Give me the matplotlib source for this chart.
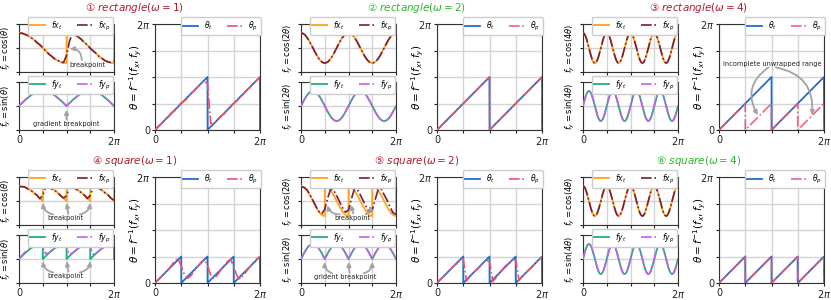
import numpy as np
import matplotlib.pyplot as plt

PI = np.pi
W, H = 831, 300

# ---- panel settings: rect w=1, rect w=2, rect w=4, square w=1, square w=2, square w=4
shapes = ["rectangle", "rectangle", "rectangle", "square", "square", "square"]
omegas = [1, 2, 4, 1, 2, 4]
marks = ["①", "②", "③", "④", "⑤", "⑥"]
title_colors = ["#b01c2e", "#2db52d", "#b01c2e", "#b01c2e", "#b01c2e", "#2db52d"]
# angle wrap period of truth / prediction (in units of pi)
true_wrap = [1, 1, 1, 0.5, 0.5, 0.5]
pred_wrap = [1, 1, 0.5, 0.5, 0.5, 0.5]

k_pred = list(range(33))
fx_pred = {
    0: [0.97, 0.99, 0.90, 0.84, 0.68, 0.58, 0.36, 0.22, 0.02, -0.18, -0.40, -0.55, -0.73, -0.82, -0.95, -0.97,
        -0.50, 0.45, 0.95, 0.88, 0.74, 0.58, 0.36, 0.22, -0.03, -0.20, -0.36, -0.58, -0.70, -0.85, -0.93, -0.97, -0.88],
    3: [0.97, 0.95, 0.93, 0.80, 0.72, 0.52, 0.40, 0.15, 0.40, 0.90, 0.95, 0.80, 0.72, 0.55, 0.35, 0.20,
        0.35, 0.88, 0.93, 0.82, 0.68, 0.56, 0.40, 0.16, 0.38, 0.90, 0.92, 0.85, 0.70, 0.54, 0.40, 0.18, 0.05],
    4: [0.95, 0.90, 0.75, 0.42, 0.05, -0.35, -0.70, -0.85, -0.55, 0.20, 0.80, 0.72, 0.35, -0.05, -0.45, -0.75,
        -0.60, 0.15, 0.82, 0.75, 0.40, 0.00, -0.40, -0.75, -0.62, 0.10, 0.78, 0.78, 0.42, 0.05, -0.40, -0.78, -0.90],
}
fy_pred = {
    3: [0.00, 0.25, 0.45, 0.60, 0.76, 0.88, 0.95, 0.97, 0.80, 0.35, 0.40, 0.58, 0.72, 0.86, 0.95, 0.98,
        0.78, 0.30, 0.40, 0.55, 0.74, 0.85, 0.93, 0.97, 0.80, 0.32, 0.37, 0.57, 0.72, 0.84, 0.92, 0.98, 1.00],
}
theta_pred = {  # in units of pi
    0: [0.00, 0.07, 0.12, 0.19, 0.24, 0.33, 0.36, 0.45, 0.51, 0.55, 0.61, 0.70, 0.74, 0.81, 0.88, 0.91,
        0.88, 0.12, 0.11, 0.20, 0.26, 0.30, 0.37, 0.45, 0.50, 0.55, 0.63, 0.68, 0.76, 0.80, 0.88, 0.94, 1.00],
    3: [0.00, 0.06, 0.12, 0.18, 0.25, 0.33, 0.42, 0.46, 0.32, 0.15, 0.09, 0.14, 0.23, 0.31, 0.39, 0.45,
        0.33, 0.14, 0.08, 0.15, 0.24, 0.32, 0.40, 0.45, 0.31, 0.13, 0.07, 0.15, 0.23, 0.31, 0.39, 0.45, 0.50],
    4: [0.00, 0.07, 0.12, 0.18, 0.25, 0.32, 0.36, 0.44, 0.46, 0.04, 0.12, 0.20, 0.24, 0.30, 0.38, 0.43,
        0.40, 0.03, 0.10, 0.18, 0.26, 0.33, 0.37, 0.45, 0.43, 0.05, 0.12, 0.19, 0.25, 0.30, 0.38, 0.44, 0.49],
}

# annotations: text, text pos (axes frac), arrows [(head x in pi, head y, tail frac, rad)]
notes = {
    (0, "fx"): ("breakpoint", (0.72, 0.15), [(1.07, -0.06, (0.66, 0.25), 0.5)]),
    (0, "fy"): ("gradient breakpoint", (0.5, 0.12), [(1.0, -0.25, (0.5, 0.22), 0.0)]),
    (2, "th"): ("incomplete unwrapped range", (0.51, 0.62),
                [(0.74, 0.28, (0.47, 0.59), 0.45), (1.77, 0.28, (0.54, 0.59), -0.45)]),
    (3, "fx"): ("breakpoint", (0.49, 0.15),
                [(0.5, -0.13, (0.36, 0.22), -0.35), (1.0, -0.13, (0.52, 0.24), 0.0), (1.5, -0.13, (0.64, 0.22), 0.35)]),
    (3, "fy"): ("breakpoint", (0.49, 0.15),
                [(0.5, -0.15, (0.36, 0.22), -0.35), (1.0, -0.15, (0.52, 0.24), 0.0), (1.5, -0.15, (0.64, 0.22), 0.35)]),
    (4, "fx"): ("breakpoint", (0.54, 0.15),
                [(0.55, -0.3, (0.41, 0.22), -0.35), (1.05, -0.25, (0.55, 0.24), 0.0), (1.45, -0.3, (0.68, 0.22), 0.35)]),
    (4, "fy"): ("grident breakpoint", (0.47, 0.12),
                [(0.5, -0.2, (0.33, 0.2), -0.35), (1.0, -0.2, (0.51, 0.22), 0.0), (1.5, -0.2, (0.66, 0.2), 0.35)]),
}

c_fx_t, c_fx_p = "#ffa31a", "#7a1c3c"
c_fy_t, c_fy_p = "#20b07a", "#c75cf2"
c_th_t, c_th_p = "#1f6fd1", "#f2506e"
GRID = "#d4d4d4"
YL = 1.6

left_x = [19, 301, 583]
right_x = [155, 437, 719]
row_top = [24, 177]

plt.rcParams["mathtext.fontset"] = "dejavusans"
fig = plt.figure(figsize=(W / 100, H / 100), dpi=100)


def px_axes(x0, y0, x1, y1):
    return fig.add_axes([x0 / W, 1 - y1 / H, (x1 - x0) / W, (y1 - y0) / H])


def style(ax, ylim, yticks, show_x):
    ax.set_xlim(0, 2 * PI)
    ax.set_ylim(*ylim)
    ax.set_xticks([0, PI / 2, PI, 3 * PI / 2, 2 * PI])
    ax.set_yticks(yticks)
    ax.grid(True, color=GRID, lw=1.0)
    ax.set_axisbelow(True)
    ax.tick_params(length=2.5, width=0.8, labelsize=7.0, pad=1.0, colors="#222222")
    for s in ax.spines.values():
        s.set_color("#333333")
        s.set_linewidth(0.8)
    if show_x:
        ax.set_xticklabels(["0", "", "", "", r"$2\pi$"])
    else:
        ax.set_xticklabels([])


def legend(ax, labels, anchor):
    ax.legend(labels, loc="upper right", bbox_to_anchor=anchor, ncol=2, fontsize=5.5,
              handlelength=2.0, columnspacing=1.8, handletextpad=0.8, borderpad=0.3,
              borderaxespad=0.0, framealpha=1.0, edgecolor="#cccccc", fancybox=True)


def add_note(ax, key, yscale):
    if key not in notes:
        return
    txt, tpos, arrows = notes[key]
    ax.text(tpos[0], tpos[1], txt, transform=ax.transAxes, ha="center", va="center",
            fontsize=4.8, color="#222222", zorder=6)
    for hx, hy, tail, rad in arrows:
        ax.annotate("", xy=(hx * PI, hy * yscale), xycoords="data",
                    xytext=tail, textcoords="axes fraction",
                    arrowprops=dict(arrowstyle="-|>", color="#a3a3a3", lw=1.3, mutation_scale=6,
                                    shrinkA=0, shrinkB=0, connectionstyle=f"arc3,rad={rad}"),
                    zorder=6)


theta = np.linspace(0, 2 * PI, 1201)
theta_k = np.array(k_pred) * PI / 16

for i in range(6):
    r, c = divmod(i, 3)
    top, lx, rx = row_top[r], left_x[c], right_x[c]
    w = omegas[i]
    th_t = np.mod(theta, true_wrap[i] * PI)
    th_p = np.mod(theta, pred_wrap[i] * PI)
    wlab = r"\theta" if w == 1 else rf"{w}\theta"

    ax_fx = px_axes(lx, top, lx + 95, top + 48)
    ax_fy = px_axes(lx, top + 58, lx + 95, top + 106)
    ax_th = px_axes(rx, top, rx + 105, top + 106)

    # fx
    ax_fx.plot(theta, np.cos(w * th_t), color=c_fx_t, lw=1.3, zorder=3)
    if i in fx_pred:
        ax_fx.plot(theta_k, fx_pred[i], color=c_fx_p, lw=1.2, ls="-.", zorder=4)
    else:
        ax_fx.plot(theta, np.cos(w * th_p), color=c_fx_p, lw=1.2, ls="-.", zorder=4)
    style(ax_fx, (-YL, YL), [-YL, 0, YL], False)
    ax_fx.set_yticklabels([])
    ax_fx.set_ylabel(rf"$f_y = \cos({wlab})$", fontsize=6.0)
    ax_fx.yaxis.set_label_coords(-0.06, 0.5)
    legend(ax_fx, [r"$fx_t$", r"$fx_p$"], (0.985, 1.15))
    add_note(ax_fx, (i, "fx"), 1)

    # fy
    ax_fy.plot(theta, np.sin(w * th_t), color=c_fy_t, lw=1.3, zorder=3)
    if i in fy_pred:
        ax_fy.plot(theta_k, fy_pred[i], color=c_fy_p, lw=1.2, ls="-.", zorder=4)
    else:
        ax_fy.plot(theta, np.sin(w * th_p), color=c_fy_p, lw=1.2, ls="-.", zorder=4)
    style(ax_fy, (-YL, YL), [-YL, 0, YL], True)
    ax_fy.set_yticklabels([])
    ax_fy.set_ylabel(rf"$f_y = \sin({wlab})$", fontsize=6.0)
    ax_fy.yaxis.set_label_coords(-0.06, 0.5)
    legend(ax_fy, [r"$fy_t$", r"$fy_p$"], (0.985, 1.13))
    add_note(ax_fy, (i, "fy"), 1)

    # theta
    ax_th.plot(theta, th_t, color=c_th_t, lw=1.3, zorder=3)
    if i in theta_pred:
        ax_th.plot(theta_k, np.array(theta_pred[i]) * PI, color=c_th_p, lw=1.2, ls="-.", zorder=4)
    else:
        ax_th.plot(theta, th_p, color=c_th_p, lw=1.2, ls="-.", zorder=4, alpha=0.9)
    style(ax_th, (0, 2 * PI), [0, PI / 2, PI, 3 * PI / 2, 2 * PI], True)
    ax_th.set_yticklabels(["0", "", "", "", r"$2\pi$"])
    ax_th.set_ylabel(r"$\theta = f^{-1}(f_x, f_y)$", fontsize=7.5)
    ax_th.yaxis.set_label_coords(-0.105, 0.5)
    legend(ax_th, [r"$\theta_t$", r"$\theta_p$"], (1.005, 1.065))
    add_note(ax_th, (i, "th"), PI)

    fig.text((lx + 95 + rx) / 2 / W, 1 - (top - 16) / H,
             f"{marks[i]} ${shapes[i]}(\\omega = {w})$", ha="center", va="center",
             fontsize=7.5, color=title_colors[i], family=["DejaVu Sans", "Noto Sans CJK SC"])

fig.savefig("out.png", dpi=100)
